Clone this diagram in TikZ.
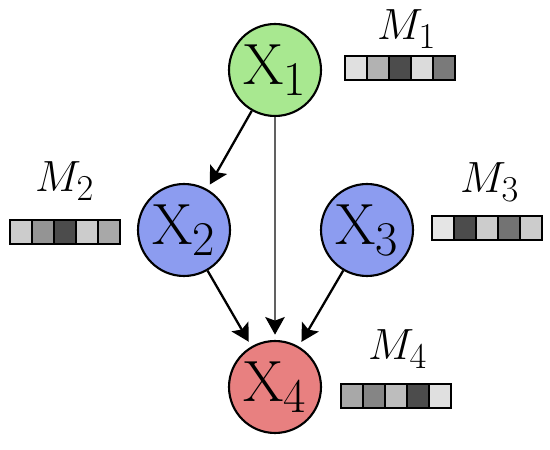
\documentclass[tikz,border=0pt]{standalone}
\usepackage{xcolor}
\usepackage{tikz}
\usetikzlibrary{arrows.meta, positioning}
\definecolor{nodegreen}{HTML}{A8E890}
\definecolor{nodeblue}{HTML}{8C9CF0}
\definecolor{nodered}{HTML}{E88080}
\tikzset{
    netdiagram/.style={x=0.02cm, y=0.02cm, line width=1.3pt},
    var/.style={draw, circle, line width=1.2pt, minimum size=1.84cm, inner sep=0pt,
        font=\fontsize{24.88}{28}\selectfont},
    memlabel/.style={anchor=base west, inner sep=0pt, font=\fontsize{24.88}{28}\selectfont},
    % one cell of a memory bar, filled with its own grey
    cell/.style={draw, line width=1.3pt, minimum width=0.44cm, minimum height=0.48cm, inner sep=0pt},
    link/.style={-{Stealth[length=10pt, width=11pt, inset=2pt, color=black]}, shorten >=3pt},
}
\begin{document}
\begin{tikzpicture}[netdiagram]
    \useasboundingbox (0,0) rectangle (550,449);

    \node[var, fill=nodegreen] (x1) at (275,379) {\scalebox{1.33}{$\mathrm{X}_1$}};
    \node[var, fill=nodeblue]  (x2) at (184,219) {\scalebox{1.33}{$\mathrm{X}_2$}};
    \node[var, fill=nodeblue]  (x3) at (367,219) {\scalebox{1.33}{$\mathrm{X}_3$}};
    \node[var, fill=nodered]   (x4) at (275,62)  {\scalebox{1.33}{$\mathrm{X}_4$}};

    \draw[link] (x1) -- (x2);
    \draw[link, draw=black!62, line width=1.6pt] (x1) -- (x4);
    \draw[link] (x2) -- (x4);
    \draw[link] (x3) -- (x4);

    \node[memlabel] (m1) at (376,409) {$M_1$};
    \node[memlabel] (m2) at (34,257)  {$M_2$};
    \node[memlabel] (m3) at (459,256) {$M_3$};
    \node[memlabel] (m4) at (367,89)  {$M_4$};

    % memory bars
    \foreach \g [count=\i from 0] in {12,30,70,14,52}
        \node[cell, fill=black!\g] (m1c\i) at (356+22*\i,381) {};
    \foreach \g [count=\i from 0] in {20,42,70,20,34}
        \node[cell, fill=black!\g] (m2c\i) at (21+22*\i,217) {};
    \foreach \g [count=\i from 0] in {10,70,20,55,20}
        \node[cell, fill=black!\g] (m3c\i) at (443+22*\i,221) {};
    \foreach \g [count=\i from 0] in {34,48,26,70,12}
        \node[cell, fill=black!\g] (m4c\i) at (352+22*\i,53) {};
\end{tikzpicture}
\end{document}
